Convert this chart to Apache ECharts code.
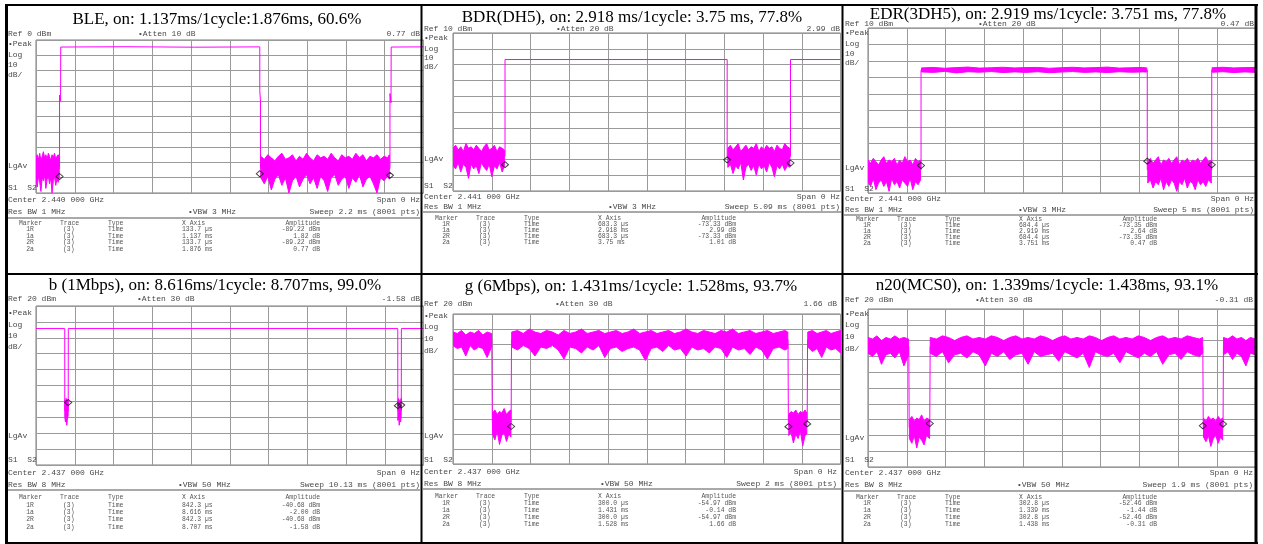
<!DOCTYPE html>
<html>
<head>
<meta charset="utf-8">
<title>Duty cycle captures</title>
<script src="https://cdn.jsdelivr.net/npm/echarts@6/dist/echarts.min.js"></script>
<style>
  html, body { margin: 0; background: #fff; }
  #chart { width: 1263px; height: 544px; }
</style>
</head>
<body>
<div id="chart"></div>
<script>
// ---- data: [ms, dBm] and noise bands [ms, top dBm, bottom dBm]
var titles = [
  'BLE, on: 1.137ms/1cycle:1.876ms, 60.6%',
  'BDR(DH5), on: 2.918 ms/1cycle: 3.75 ms, 77.8%',
  'EDR(3DH5), on: 2.919 ms/1cycle: 3.751 ms, 77.8%',
  'b (1Mbps), on: 8.616ms/1cycle: 8.707ms, 99.0%',
  'g (6Mbps), on: 1.431ms/1cycle: 1.528ms, 93.7%',
  'n20(MCS0), on: 1.339ms/1cycle: 1.438ms, 93.1%'
];
var refLevels = [0, 10, 10, 20, 20, 20];
var sweeps = [2.2, 5.09, 5, 10.13, 2, 1.9];
var refLabels = ['Ref 0 dBm', 'Ref 10 dBm', 'Ref 10 dBm', 'Ref 20 dBm', 'Ref 20 dBm', 'Ref 20 dBm'];
var attenLabels = ['\u2022Atten 10 dB', '\u2022Atten 20 dB', '\u2022Atten 20 dB', '\u2022Atten 30 dB', '\u2022Atten 30 dB', '\u2022Atten 30 dB'];
var deltaLabels = ['0.77 dB', '2.99 dB', '0.47 dB', '-1.58 dB', '1.66 dB', '-0.31 dB'];
var centerLabels = ['Center 2.440 000 GHz', 'Center 2.441 000 GHz', 'Center 2.441 000 GHz', 'Center 2.437 000 GHz', 'Center 2.437 000 GHz', 'Center 2.437 000 GHz'];
var rbwLabels = ['Res BW 1 MHz', 'Res BW 1 MHz', 'Res BW 1 MHz', 'Res BW 8 MHz', 'Res BW 8 MHz', 'Res BW 8 MHz'];
var vbwLabels = ['\u2022VBW 3 MHz', '\u2022VBW 3 MHz', '\u2022VBW 3 MHz', '\u2022VBW 50 MHz', '\u2022VBW 50 MHz', '\u2022VBW 50 MHz'];
var sweepLabels = ['Sweep 2.2 ms (8001 pts)', 'Sweep 5.09 ms (8001 pts)', 'Sweep 5 ms (8001 pts)', 'Sweep 10.13 ms (8001 pts)', 'Sweep 2 ms (8001 pts)', 'Sweep 1.9 ms (8001 pts)'];
var tableHead = ['Marker', 'Trace', 'Type', 'X Axis', 'Amplitude'];

var bleRows = [['1R', '(3)', 'Time', '133.7 \u00b5s', '-89.22 dBm'], ['1a', '(3)', 'Time', '1.137 ms', '1.82 dB'], ['2R', '(3)', 'Time', '133.7 \u00b5s', '-89.22 dBm'], ['2a', '(3)', 'Time', '1.876 ms', '0.77 dB']];
var bdrRows = [['1R', '(3)', 'Time', '683.3 \u00b5s', '-73.33 dBm'], ['1a', '(3)', 'Time', '2.918 ms', '2.99 dB'], ['2R', '(3)', 'Time', '683.3 \u00b5s', '-73.33 dBm'], ['2a', '(3)', 'Time', '3.75 ms', '1.01 dB']];
var edrRows = [['1R', '(3)', 'Time', '684.4 \u00b5s', '-73.35 dBm'], ['1a', '(3)', 'Time', '2.919 ms', '2.64 dB'], ['2R', '(3)', 'Time', '684.4 \u00b5s', '-73.35 dBm'], ['2a', '(3)', 'Time', '3.751 ms', '0.47 dB']];
var bRows = [['1R', '(3)', 'Time', '842.3 \u00b5s', '-40.68 dBm'], ['1a', '(3)', 'Time', '8.616 ms', '-2.00 dB'], ['2R', '(3)', 'Time', '842.3 \u00b5s', '-40.68 dBm'], ['2a', '(3)', 'Time', '8.707 ms', '-1.58 dB']];
var gRows = [['1R', '(3)', 'Time', '300.0 \u00b5s', '-54.97 dBm'], ['1a', '(3)', 'Time', '1.431 ms', '-0.14 dB'], ['2R', '(3)', 'Time', '300.0 \u00b5s', '-54.97 dBm'], ['2a', '(3)', 'Time', '1.528 ms', '1.66 dB']];
var nRows = [['1R', '(3)', 'Time', '302.8 \u00b5s', '-52.46 dBm'], ['1a', '(3)', 'Time', '1.339 ms', '-1.44 dB'], ['2R', '(3)', 'Time', '302.8 \u00b5s', '-52.46 dBm'], ['2a', '(3)', 'Time', '1.438 ms', '-0.31 dB']];

// BLE
var bleTrace = [[0, -84], [0.1337, -84], [0.1337, -36], [0.1395, -40], [0.1405, -4.6], [0.5, -4.4], [0.9, -4.7], [1.2705, -4.5], [1.2705, -33], [1.2745, -40], [1.2745, -84], [2.0097, -84], [2.0097, -35], [2.0155, -41], [2.0165, -4.6], [2.2, -4.5]];
var bleNoiseA = [[0, -77, -91], [0.007, -75, -96], [0.014, -78, -89], [0.021, -74, -93], [0.028, -79, -99], [0.035, -76, -90], [0.042, -73, -92], [0.049, -77, -88], [0.056, -75, -97], [0.063, -78, -91], [0.07, -74, -89], [0.077, -76, -94], [0.084, -79, -90], [0.091, -75, -100], [0.098, -77, -92], [0.105, -74, -89], [0.112, -78, -95], [0.119, -76, -91], [0.126, -75, -93], [0.132, -77, -90]];
var bleNoiseB = [[1.276, -76, -90], [1.296, -78, -94], [1.316, -75, -89], [1.336, -77, -98], [1.356, -79, -91], [1.376, -76, -88], [1.396, -74, -95], [1.416, -78, -90], [1.436, -77, -100], [1.456, -75, -92], [1.476, -79, -89], [1.496, -76, -96], [1.516, -78, -91], [1.536, -74, -88], [1.556, -77, -94], [1.576, -79, -90], [1.596, -75, -97], [1.616, -77, -89], [1.636, -76, -92], [1.656, -78, -99], [1.676, -74, -90], [1.696, -77, -88], [1.716, -79, -95], [1.736, -75, -91], [1.756, -77, -89], [1.776, -76, -97], [1.796, -78, -90], [1.816, -74, -93], [1.836, -77, -88], [1.856, -75, -96], [1.876, -79, -91], [1.896, -76, -89], [1.916, -77, -94], [1.936, -75, -100], [1.956, -78, -90], [1.976, -76, -92], [1.996, -77, -89], [2.006, -75, -91]];
var bleMarkers = [[0.1337, -89.22], [1.2707, -87.4], [2.0097, -88.45]];

// BDR
var bdrTrace = [[0, -68], [0.6833, -68], [0.6833, -6.8], [3.6013, -6.8], [3.6013, -68], [4.4333, -68], [4.4333, -6.8], [5.09, -6.8]];
var bdrNoiseA = [[0, -63, -74], [0.034, -61, -76], [0.068, -64, -72], [0.102, -62, -78], [0.136, -65, -73], [0.17, -60, -75], [0.204, -63, -82], [0.238, -62, -73], [0.272, -64, -76], [0.306, -61, -74], [0.34, -63, -79], [0.374, -65, -72], [0.408, -62, -75], [0.442, -60, -77], [0.476, -64, -73], [0.51, -63, -81], [0.544, -61, -74], [0.578, -65, -76], [0.612, -62, -72], [0.646, -63, -78], [0.675, -64, -74]];
var bdrNoiseB = [[3.61, -63, -75], [3.644, -61, -73], [3.678, -64, -79], [3.712, -62, -74], [3.746, -60, -76], [3.78, -65, -72], [3.814, -63, -83], [3.848, -61, -75], [3.882, -64, -73], [3.916, -62, -77], [3.95, -63, -74], [3.984, -60, -80], [4.018, -65, -73], [4.052, -62, -76], [4.086, -64, -74], [4.12, -61, -78], [4.154, -63, -72], [4.188, -62, -75], [4.222, -65, -81], [4.256, -61, -74], [4.29, -63, -76], [4.324, -64, -73], [4.358, -60, -77], [4.392, -62, -74], [4.425, -63, -75]];
var bdrMarkers = [[0.6833, -73.33], [3.6013, -70.3], [4.4333, -72.3]];

// EDR
var edrTrace = [[0, -76], [0.6844, -76], [0.6844, -15.5], [3.6034, -15.5], [3.6034, -76], [4.4354, -76], [4.4354, -15.5], [5, -15.5]];
var edrHighA = [[0.69, -14.2, -16.6], [0.84, -13.9, -16.9], [0.99, -14.4, -16.3], [1.14, -14.0, -17.2], [1.29, -13.7, -16.5], [1.44, -14.3, -16.8], [1.59, -14.1, -16.4], [1.74, -13.8, -17.0], [1.89, -14.2, -16.6], [2.04, -14.0, -16.9], [2.19, -13.9, -16.5], [2.34, -14.4, -17.1], [2.49, -14.1, -16.7], [2.64, -13.8, -16.4], [2.79, -14.2, -16.9], [2.94, -14.0, -16.6], [3.09, -13.7, -17.0], [3.24, -14.3, -16.5], [3.39, -14.1, -16.8], [3.54, -13.9, -16.6], [3.598, -14.2, -16.7]];
var edrHighB = [[4.44, -14.1, -16.8], [4.58, -13.8, -16.5], [4.72, -14.2, -17.0], [4.86, -14.0, -16.6], [5, -13.9, -16.9]];
var edrNoiseA = [[0, -70, -83], [0.034, -72, -86], [0.068, -69, -81], [0.102, -71, -88], [0.136, -73, -84], [0.17, -70, -82], [0.204, -68, -86], [0.238, -72, -83], [0.272, -70, -89], [0.306, -71, -81], [0.34, -69, -85], [0.374, -73, -83], [0.408, -70, -87], [0.442, -72, -82], [0.476, -68, -84], [0.51, -71, -86], [0.544, -70, -81], [0.578, -73, -88], [0.612, -69, -83], [0.646, -71, -85], [0.678, -70, -82]];
var edrNoiseB = [[3.61, -71, -84], [3.644, -69, -82], [3.678, -72, -87], [3.712, -70, -83], [3.746, -68, -85], [3.78, -73, -81], [3.814, -70, -88], [3.848, -71, -83], [3.882, -69, -86], [3.916, -72, -82], [3.95, -70, -84], [3.984, -68, -89], [4.018, -73, -83], [4.052, -70, -85], [4.086, -71, -81], [4.12, -69, -87], [4.154, -72, -83], [4.188, -70, -84], [4.222, -71, -88], [4.256, -69, -82], [4.29, -72, -85], [4.324, -70, -83], [4.358, -68, -86], [4.392, -71, -82], [4.43, -70, -84]];
var edrMarkers = [[0.6844, -73.35], [3.6034, -70.7], [4.4354, -72.9]];

// 802.11b
var bTrace = [[0, 5.8], [0.7513, 5.8], [0.7523, -46], [0.8423, -46], [0.8443, 5.8], [9.4573, 5.8], [9.4583, -46], [9.5493, -46], [9.5513, 5.8], [10.13, 5.8]];
var bNoiseA = [[0.753, -39, -50], [0.77, -41, -53], [0.787, -38, -48], [0.804, -40, -55], [0.821, -39, -51], [0.84, -41, -49]];
var bNoiseB = [[9.46, -40, -52], [9.478, -38, -49], [9.496, -41, -55], [9.514, -39, -50], [9.532, -40, -53], [9.547, -38, -49]];
var bMarkers = [[0.8423, -40.68], [9.4583, -42.7], [9.5493, -42.3]];

// 802.11g
var gTrace = [[0, 3], [0.2, 3], [0.203, -52], [0.3, -52], [0.302, 3], [1.729, 3], [1.731, -52], [1.828, -52], [1.83, 3], [2, 3]];
var gHighA = [[0, 8, -1], [0.022, 7, -3], [0.044, 9, -2], [0.066, 6, -8], [0.088, 8, -1], [0.11, 7, -4], [0.132, 9, -2], [0.154, 6, -3], [0.176, 8, -9], [0.199, 7, -2]];
var gHighB = [[0.303, 8, -2], [0.333, 9, -4], [0.363, 7, -1], [0.393, 10, -3], [0.423, 8, -8], [0.453, 7, -2], [0.483, 9, -3], [0.513, 8, -1], [0.543, 6, -4], [0.573, 9, -10], [0.603, 7, -2], [0.633, 8, -3], [0.663, 10, -6], [0.693, 7, -2], [0.723, 8, -4], [0.753, 9, -1], [0.783, 7, -9], [0.813, 8, -3], [0.843, 9, -2], [0.873, 7, -5], [0.903, 8, -3], [0.933, 10, -2], [0.963, 7, -4], [0.993, 8, -11], [1.023, 9, -3], [1.053, 7, -2], [1.083, 8, -5], [1.113, 9, -1], [1.143, 7, -4], [1.173, 8, -3], [1.203, 10, -8], [1.233, 8, -2], [1.263, 7, -4], [1.293, 9, -3], [1.323, 8, -6], [1.353, 7, -2], [1.383, 9, -3], [1.413, 8, -9], [1.443, 10, -2], [1.473, 7, -4], [1.503, 8, -3], [1.533, 9, -7], [1.563, 7, -2], [1.593, 8, -4], [1.623, 9, -10], [1.653, 7, -3], [1.683, 8, -2], [1.713, 9, -4], [1.728, 8, -3]];
var gHighC = [[1.831, 8, -2], [1.855, 9, -5], [1.879, 7, -3], [1.903, 8, -9], [1.927, 9, -2], [1.951, 7, -4], [1.975, 8, -3], [2, 9, -6]];
var gLowA = [[0.204, -46, -60], [0.216, -44, -64], [0.228, -47, -58], [0.24, -45, -67], [0.252, -46, -61], [0.264, -43, -59], [0.276, -47, -65], [0.288, -45, -60], [0.299, -44, -62]];
var gLowB = [[1.733, -47, -61], [1.745, -45, -59], [1.757, -46, -66], [1.769, -44, -60], [1.781, -47, -63], [1.793, -45, -58], [1.805, -46, -68], [1.817, -44, -61], [1.826, -46, -60]];
var gMarkers = [[0.3, -54.97], [1.731, -55.1], [1.828, -53.3]];

// 802.11n HT20
var nTrace = [[0, -4], [0.2, -4], [0.202, -55], [0.3028, -55], [0.3048, -4], [1.6418, -4], [1.6438, -55], [1.7408, -55], [1.7428, -4], [1.9, -4]];
var nHighA = [[0, 2, -8], [0.022, 1, -10], [0.044, 3, -7], [0.066, 0, -15], [0.088, 2, -9], [0.11, 1, -8], [0.132, 3, -11], [0.154, 1, -7], [0.176, 2, -16], [0.199, 1, -9]];
var nHighB = [[0.305, 2, -8], [0.335, 1, -10], [0.365, 3, -7], [0.395, 2, -14], [0.425, 0, -9], [0.455, 2, -8], [0.485, 3, -11], [0.515, 1, -7], [0.545, 2, -9], [0.575, 1, -16], [0.605, 3, -8], [0.635, 2, -10], [0.665, 0, -7], [0.695, 2, -12], [0.725, 3, -9], [0.755, 1, -8], [0.785, 2, -15], [0.815, 1, -7], [0.845, 3, -10], [0.875, 2, -9], [0.905, 0, -8], [0.935, 2, -13], [0.965, 3, -7], [0.995, 1, -9], [1.025, 2, -11], [1.055, 1, -8], [1.085, 3, -17], [1.115, 2, -7], [1.145, 0, -9], [1.175, 2, -10], [1.205, 3, -8], [1.235, 1, -14], [1.265, 2, -7], [1.295, 1, -9], [1.325, 3, -11], [1.355, 2, -8], [1.385, 0, -10], [1.415, 2, -7], [1.445, 3, -15], [1.475, 1, -9], [1.505, 2, -8], [1.535, 1, -12], [1.565, 3, -7], [1.595, 2, -9], [1.625, 1, -10], [1.641, 2, -8]];
var nHighC = [[1.743, 2, -9], [1.765, 1, -7], [1.787, 3, -12], [1.809, 1, -8], [1.831, 2, -10], [1.853, 0, -16], [1.875, 2, -8], [1.9, 1, -9]];
var nLowA = [[0.203, -50, -62], [0.215, -48, -65], [0.227, -51, -60], [0.239, -49, -68], [0.251, -50, -61], [0.263, -47, -63], [0.275, -51, -66], [0.287, -49, -60], [0.302, -50, -62]];
var nLowB = [[1.645, -49, -61], [1.657, -51, -64], [1.669, -48, -60], [1.681, -50, -67], [1.693, -49, -62], [1.705, -51, -60], [1.717, -48, -65], [1.729, -50, -61], [1.739, -49, -63]];
var nMarkers = [[0.3028, -52.46], [1.6418, -53.9], [1.7408, -52.77]];

var traces = [bleTrace, bdrTrace, edrTrace, bTrace, gTrace, nTrace];
var bands = [
  [bleNoiseA, bleNoiseB],
  [bdrNoiseA, bdrNoiseB],
  [edrHighA, edrHighB, edrNoiseA, edrNoiseB],
  [bNoiseA, bNoiseB],
  [gHighA, gHighB, gHighC, gLowA, gLowB],
  [nHighA, nHighB, nHighC, nLowA, nLowB]
];
var markers = [bleMarkers, bdrMarkers, edrMarkers, bMarkers, gMarkers, nMarkers];
var rows = [bleRows, bdrRows, edrRows, bRows, gRows, nRows];

// ---- where each screenshot sits in the table
var boxes = [
  {x0: 5, x1: 421, cx: 217, gl: 36, gt: 40, gb: 193, ty: 20, ry: 34, lab: [44, 55, 65, 75], lg: 166, s1: 188, cy: 200, by: 212, sep: 218, hy: 223, r0: 229.5, dy: 6.5, ax: 138, vx: 188, rx: 420},
  {x0: 421, x1: 842, cx: 632, gl: 453, gt: 33, gb: 191, ty: 18, ry: 29, lab: [38, 49, 58, 67], lg: 159, s1: 186, cy: 197, by: 207, sep: 212, hy: 218, r0: 224, dy: 6.2, ax: 556, vx: 608, rx: 840},
  {x0: 842, x1: 1256, cx: 1048, gl: 868, gt: 28, gb: 193, ty: 15, ry: 24, lab: [33, 44, 54, 63], lg: 168, s1: 189, cy: 199, by: 210, sep: 215, hy: 219.5, r0: 225.5, dy: 6, ax: 978, vx: 1018, rx: 1254},
  {x0: 5, x1: 421, cx: 215, gl: 36, gt: 306, gb: 465, ty: 286, ry: 299, lab: [313, 325, 336, 347], lg: 436, s1: 460, cy: 473, by: 485, sep: 490, hy: 497, r0: 505, dy: 7.4, ax: 137, vx: 178, rx: 420},
  {x0: 421, x1: 842, cx: 631, gl: 453, gt: 314, gb: 464, ty: 287, ry: 304, lab: [316, 327, 339, 351], lg: 436, s1: 460, cy: 472, by: 484, sep: 489, hy: 496, r0: 503, dy: 7.2, ax: 555, vx: 600, rx: 837},
  {x0: 842, x1: 1256, cx: 1047, gl: 868, gt: 309, gb: 467, ty: 286, ry: 300, lab: [314, 325, 337, 349], lg: 438, s1: 460, cy: 473, by: 485, sep: 491, hy: 497, r0: 503.5, dy: 7, ax: 975, vx: 1017, rx: 1253}
];
var DIV = 38.75;
var MAG = '#ff00ff';
var SCREEN_FONT = '8px "Liberation Mono", "DejaVu Sans Mono", monospace';
var TABLE_FONT = '6.4px "Liberation Mono", "DejaVu Sans Mono", monospace';

var myChart = echarts.init(document.getElementById('chart'), null, {renderer: 'canvas'});

function txt(x, y, s, font, align, color) {
  return {
    type: 'text', x: x, y: y, z: 50, silent: true,
    style: {text: s, font: font, fill: color || '#4a4a4a', align: align || 'left', textAlign: align || 'left', verticalAlign: 'middle', textVerticalAlign: 'middle'}
  };
}
function hline(x1, x2, y, w, c, z) {
  return {type: 'line', z: z || 60, silent: true, shape: {x1: x1, y1: y, x2: x2, y2: y}, style: {stroke: c, lineWidth: w}};
}
function vline(x, y1, y2, w, c, z) {
  return {type: 'line', z: z || 60, silent: true, shape: {x1: x, y1: y1, x2: x, y2: y2}, style: {stroke: c, lineWidth: w}};
}

// noise band drawn as a filled polygon through the axis scales
function bandSeries(i, band) {
  return {
    type: 'custom', xAxisIndex: i, yAxisIndex: i, clip: true, silent: true, z: 3,
    data: [[band[0][0], band[0][1]]],
    renderItem: function (params, api) {
      var pts = [];
      band.forEach(function (p) { pts.push(api.coord([p[0], p[1]])); });
      band.slice().reverse().forEach(function (p) { pts.push(api.coord([p[0], p[2]])); });
      return {type: 'polygon', shape: {points: pts}, style: {fill: MAG, stroke: MAG, lineWidth: 1}};
    }
  };
}

var grids = [], xAxes = [], yAxes = [], series = [], graphic = [];

boxes.forEach(function (b, i) {
  grids.push({left: b.gl, top: b.gt, width: DIV * 10, height: b.gb - b.gt, show: true, borderColor: '#7a7a7a', borderWidth: 1, backgroundColor: '#fff'});
  xAxes.push({
    gridIndex: i, type: 'value', min: 0, max: sweeps[i], interval: sweeps[i] / 10,
    axisLabel: {show: false}, axisTick: {show: false}, axisLine: {show: false},
    splitLine: {show: true, lineStyle: {color: '#9a9a9a', width: 1}}
  });
  yAxes.push({
    gridIndex: i, type: 'value', min: refLevels[i] - 100, max: refLevels[i], interval: 10,
    axisLabel: {show: false}, axisTick: {show: false}, axisLine: {show: false},
    splitLine: {show: true, lineStyle: {color: '#9a9a9a', width: 1}}
  });

  bands[i].forEach(function (band) { series.push(bandSeries(i, band)); });
  series.push({
    type: 'line', xAxisIndex: i, yAxisIndex: i, data: traces[i], showSymbol: false, clip: true, z: 4,
    lineStyle: {color: MAG, width: 1}, itemStyle: {color: MAG}, silent: true
  });
  series.push({
    type: 'scatter', xAxisIndex: i, yAxisIndex: i, data: markers[i], symbol: 'diamond', symbolSize: [7, 6], z: 5,
    itemStyle: {color: 'rgba(255,255,255,0)', borderColor: '#111', borderWidth: 1}, silent: true
  });

  // title and analyzer annotations
  graphic.push({
    type: 'text', x: b.cx, y: b.ty, z: 50, silent: true,
    style: {text: titles[i], font: '17px "Liberation Serif", "Times New Roman", serif', fill: '#000', align: 'center', textAlign: 'center', verticalAlign: 'middle', textVerticalAlign: 'middle'}
  });
  var lx = b.x0 + 3;
  graphic.push(txt(lx, b.ry, refLabels[i], SCREEN_FONT));
  graphic.push(txt(b.ax, b.ry, attenLabels[i], SCREEN_FONT));
  graphic.push(txt(b.rx, b.ry, deltaLabels[i], SCREEN_FONT, 'right'));
  graphic.push(txt(lx, b.lab[0], '\u2022Peak', SCREEN_FONT));
  graphic.push(txt(lx, b.lab[1], 'Log', SCREEN_FONT));
  graphic.push(txt(lx, b.lab[2], '10', SCREEN_FONT));
  graphic.push(txt(lx, b.lab[3], 'dB/', SCREEN_FONT));
  graphic.push(txt(lx, b.lg, 'LgAv', SCREEN_FONT));
  graphic.push(txt(lx, b.s1, 'S1  S2', SCREEN_FONT));
  graphic.push(txt(lx, b.cy, centerLabels[i], SCREEN_FONT));
  graphic.push(txt(b.rx, b.cy, 'Span 0 Hz', SCREEN_FONT, 'right'));
  graphic.push(txt(lx, b.by, rbwLabels[i], SCREEN_FONT));
  graphic.push(txt(b.vx, b.by, vbwLabels[i], SCREEN_FONT));
  graphic.push(txt(b.rx, b.by, sweepLabels[i], SCREEN_FONT, 'right'));
  graphic.push(hline(b.x0 + 2, b.x1 - 1, b.sep, 1.5, '#8c8c8c', 40));

  // marker table
  var cols = [b.x0 + 14, b.x0 + 55, b.x0 + 103, b.x0 + 177];
  for (var c = 0; c < 4; c++) graphic.push(txt(cols[c], b.hy, tableHead[c], TABLE_FONT, 'left', '#555'));
  graphic.push(txt(b.x0 + 315, b.hy, tableHead[4], TABLE_FONT, 'right', '#555'));
  rows[i].forEach(function (r, k) {
    var y = b.r0 + k * b.dy;
    graphic.push(txt(b.x0 + 25, y, r[0], TABLE_FONT, 'center', '#555'));
    graphic.push(txt(b.x0 + 58, y, r[1], TABLE_FONT, 'left', '#555'));
    graphic.push(txt(b.x0 + 103, y, r[2], TABLE_FONT, 'left', '#555'));
    graphic.push(txt(b.x0 + 177, y, r[3], TABLE_FONT, 'left', '#555'));
    graphic.push(txt(b.x0 + 315, y, r[4], TABLE_FONT, 'right', '#555'));
  });
});

// table borders around the six captures
graphic.push(vline(6.5, 4, 544, 3, '#000', 90));
graphic.push(vline(421.5, 4, 544, 2, '#000', 90));
graphic.push(vline(842.5, 4, 544, 2, '#000', 90));
graphic.push(vline(1256, 4, 544, 3, '#000', 90));
graphic.push(hline(5, 1258, 5, 2, '#000', 90));
graphic.push(hline(5, 1258, 274, 2, '#000', 90));
graphic.push(hline(5, 1258, 543, 2, '#000', 90));
// white outside the right border
graphic.push({type: 'rect', z: 85, silent: true, shape: {x: 1257.5, y: 0, width: 6, height: 544}, style: {fill: '#fff'}});

var option = {
  backgroundColor: '#fff',
  animation: false,
  grid: grids,
  xAxis: xAxes,
  yAxis: yAxes,
  series: series,
  graphic: graphic
};
myChart.setOption(option, true);
</script>
</body>
</html>
